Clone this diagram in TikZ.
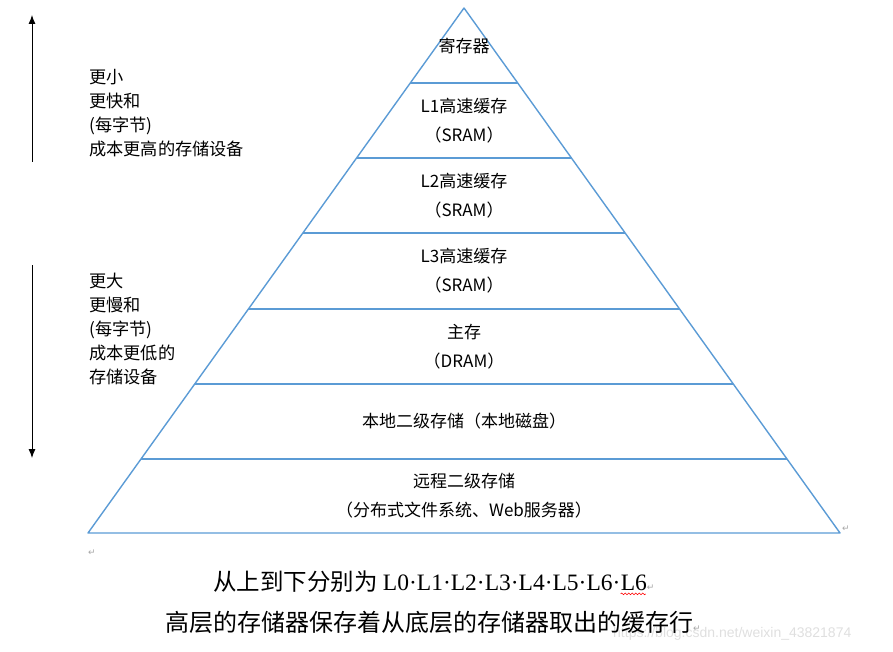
\documentclass[tikz,border=0pt]{standalone}
\usepackage{fontspec}
\setmainfont{Noto Sans CJK SC}
\newfontfamily\cjk{Noto Sans CJK SC}
\newfontfamily\tms{Liberation Serif}
\newfontfamily\arl{Liberation Sans}
\newfontfamily\sym{DejaVu Sans}
\usetikzlibrary{arrows.meta,decorations.pathmorphing}
\definecolor{layerblue}{RGB}{91,155,213}
\newcommand{\pmark}{{\sym\color{gray!70}\fontsize{9}{9}\selectfont ↵}}
\tikzset{
  layer/.style={draw=layerblue, line width=1.4pt},
  lbl/.style={inner sep=0pt, align=center, font=\fontsize{17}{29}\selectfont},
  side/.style={inner sep=0pt, anchor=north west, align=left, font=\fontsize{17.2}{24}\selectfont},
  trend/.style={-{Latex[length=9pt,width=7pt]}, line width=0.9pt},
  caption/.style={inner sep=0pt, anchor=west, font=\fontsize{23.5}{28}\selectfont},
}
\begin{document}
\begin{tikzpicture}[x=1pt, y=-1pt]
  \useasboundingbox (0,0) rectangle (893,652);

  % Pyramid outline
  \coordinate (apex) at (464,8);
  \coordinate (baseL) at (88,533);
  \coordinate (baseR) at (840,533);
  \draw[layer, line join=round] (apex) -- (baseL) -- (baseR) -- cycle;

  % Layer borders
  \foreach \y in {83,158,233,309,384,459} {
    \pgfmathsetmacro\dx{(\y-8)/525*376}
    \draw[layer] ({464-\dx},\y) -- ({464+\dx},\y);
  }

  % Layer labels
  \foreach \ymid/\txt [count=\i] in {45.5/寄存器,
      120.5/{L1高速缓存\\（SRAM）},
      195.5/{L2高速缓存\\（SRAM）},
      271/{L3高速缓存\\（SRAM）},
      346.5/{主存\\（DRAM）},
      421.5/{本地二级存储（本地磁盘）},
      496/{远程二级存储\\（分布式文件系统、Web服务器）}} {
    \node[lbl] (level\i) at (464,\ymid) {\txt};
  }
  \node[inner sep=0pt] (endmark) at (846,529) {\pmark};

  % Left side: direction arrows
  \coordinate (upfrom) at (32,162);
  \coordinate (upto) at (32,15);
  \draw[trend] (upfrom) -- (upto);
  \node[side] (smaller) at (89,69) {更小\\更快和\\(每字节)\\成本更高的存储设备};

  \coordinate (downfrom) at (32,265);
  \coordinate (downto) at (32,458);
  \draw[trend] (downfrom) -- (downto);
  \node[side] (larger) at (89,273) {更大\\更慢和\\(每字节)\\成本更低的\\存储设备};

  % Caption below
  \node[inner sep=0pt] (gapmark) at (92,553) {\pmark};
  \node[caption] (rowtitle) at (213,582)
    {\cjk 从上到下分别为 \tms L0·L1·L2·L3·L4·L5·L6·};
  \node[caption, anchor=base west, inner sep=0pt] (lastlvl) at (rowtitle.base east) {\tms L6\pmark};
  \draw[red, line width=0.6pt, decorate, decoration={snake, amplitude=0.9pt, segment length=3.5pt}]
    ([yshift=-3pt]lastlvl.base west) -- ([xshift=-9pt, yshift=-3pt]lastlvl.base east);
  \node[inner sep=0pt, anchor=west, text=gray!25, font=\arl\fontsize{14}{14}\selectfont] (wmark) at (613,634)
    {https://blog.csdn.net/weixin\_43821874};
  \node[caption, font=\fontsize{24}{28}\selectfont] (rownote) at (165,622)
    {高层的存储器保存着从底层的存储器取出的缓存行\pmark};
\end{tikzpicture}
\end{document}
